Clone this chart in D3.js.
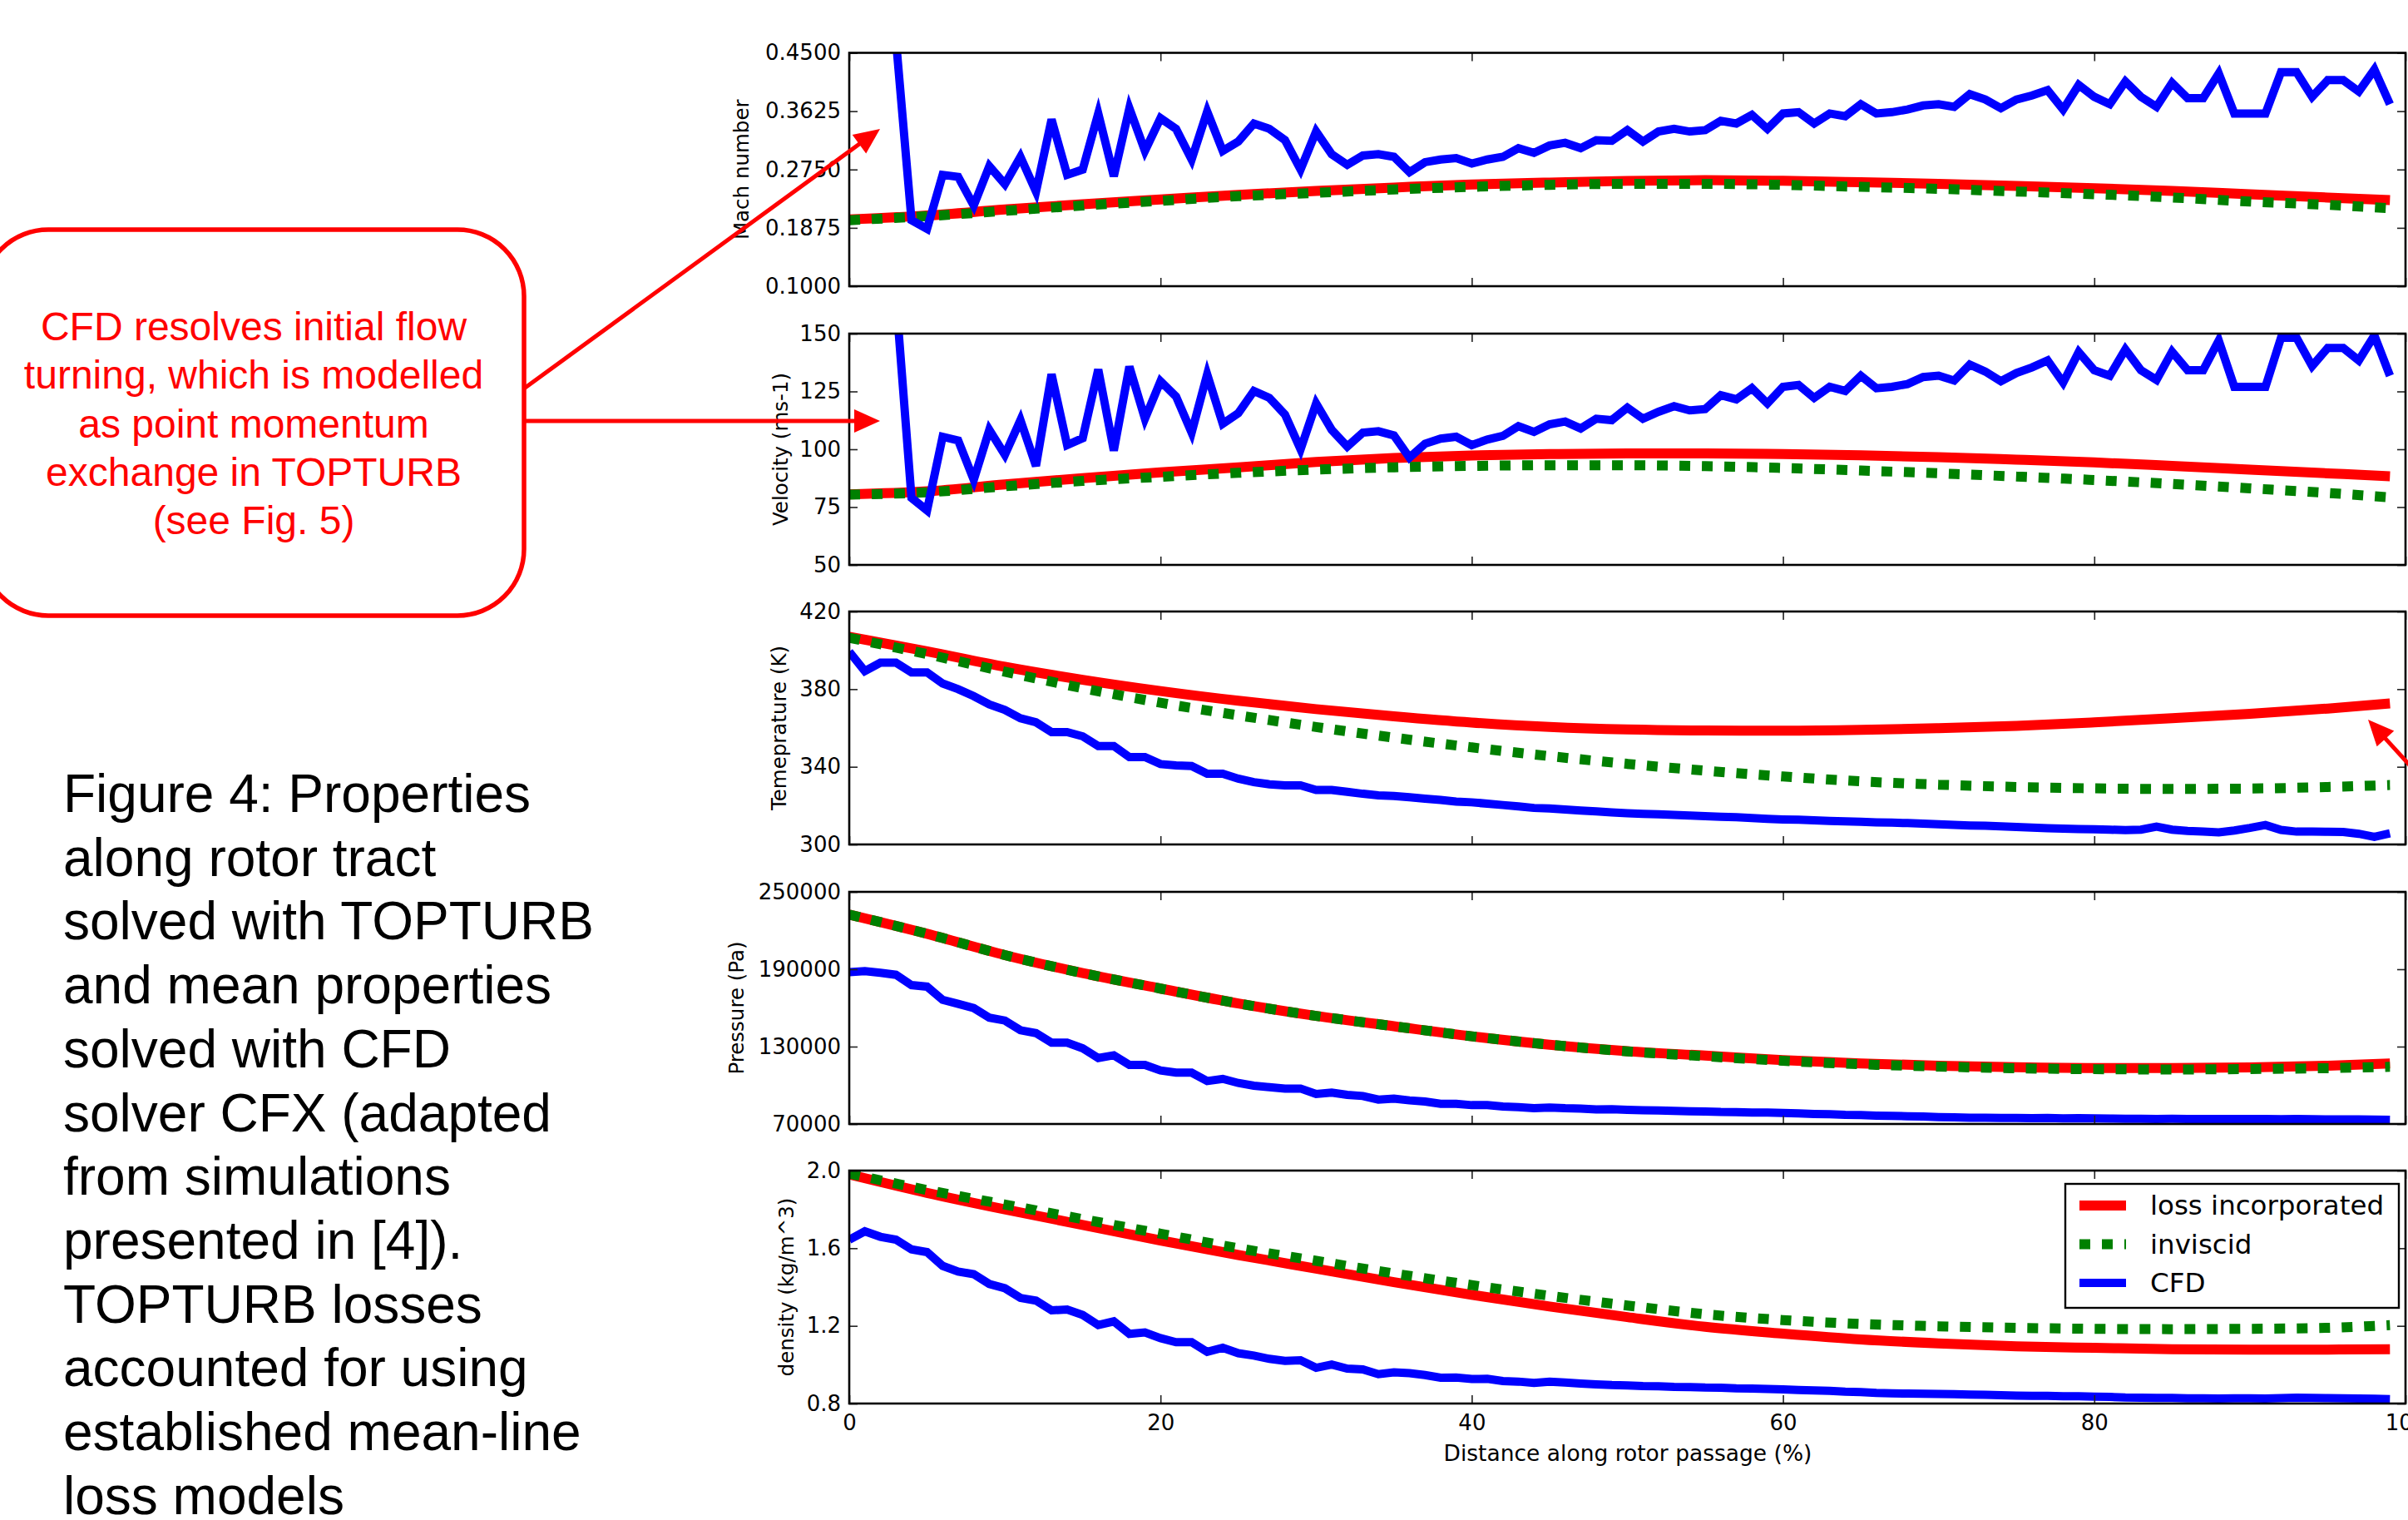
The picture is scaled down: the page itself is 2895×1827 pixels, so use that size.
<!DOCTYPE html>
<html><head><meta charset="utf-8">
<script src="https://cdn.jsdelivr.net/npm/d3@7"></script>
<style>html,body{margin:0;padding:0;background:#fff;} svg{display:block;}</style>
</head><body>
<svg id="chart" width="2895" height="1827"></svg>
<script>
// ---------------- DATA ----------------
const X_MODEL = [0,5,10,15,20,25,30,35,40,45,50,55,60,65,70,75,80,85,90,95,99];
const X_CFD = d3.range(0, 100);
const X_TICKS = [0,20,40,60,80,100];
const SERIES_NAMES = ["loss incorporated", "inviscid", "CFD"];

const machLoss = [0.200,0.206,0.215,0.223,0.230,0.237,0.243,0.248,0.2525,0.2555,0.258,0.259,0.258,0.256,0.2535,0.2505,0.247,0.243,0.238,0.233,0.229];
const machInviscid = [0.199,0.205,0.213,0.221,0.228,0.235,0.240,0.245,0.249,0.252,0.2535,0.2535,0.252,0.249,0.246,0.242,0.238,0.233,0.227,0.222,0.217];
const machCFD = [0.75,0.70,0.62,0.47,0.199,0.186,0.267,0.264,0.221,0.280,0.253,0.294,0.242,0.350,0.267,0.275,0.359,0.265,0.367,0.303,
  0.352,0.336,0.290,0.362,0.303,0.317,0.344,0.336,0.319,0.275,0.332,0.298,0.282,0.296,0.298,0.294,0.271,0.286,0.290,0.292,
  0.284,0.290,0.294,0.307,0.300,0.311,0.315,0.307,0.319,0.318,0.334,0.317,0.332,0.336,0.332,0.334,0.348,0.344,0.357,0.336,
  0.359,0.361,0.344,0.359,0.355,0.373,0.359,0.361,0.365,0.371,0.373,0.369,0.388,0.380,0.367,0.380,0.386,0.394,0.365,0.402,
  0.384,0.373,0.407,0.384,0.369,0.405,0.382,0.382,0.419,0.359,0.359,0.359,0.421,0.421,0.384,0.409,0.409,0.392,0.425,0.373];
const machTicks = [0.1,0.1875,0.275,0.3625,0.45];

const velLoss = [80.5,81.8,84.8,87.5,90.0,92.2,94.5,96.2,97.3,97.9,98.2,98.2,97.9,97.4,96.6,95.5,94.3,92.8,91.2,89.6,88.3];
const velInviscid = [80.4,81.4,84.0,86.3,88.1,89.8,91.2,92.2,92.8,93.1,93.1,92.7,91.9,90.8,89.6,88.2,86.7,85.0,83.1,81.1,79.2];
const velCFD = [260,240,210,166,79.0,73.6,105.4,103.8,86.8,108.4,97.6,112.6,92.8,132.4,101.8,104.8,134.5,99.4,135.7,113.2,
  129.4,122.8,107.2,132.4,111,115.6,125.2,122.2,115,100,119.8,108.4,101.2,107.2,107.8,106,96.4,102.4,104.6,105.4,
  101.8,104.2,105.8,110,107.5,110.8,112,109,113.2,112.6,118,113.2,116.2,118.6,116.8,117.4,123.4,121.6,126.4,119.8,
  127,127.8,122.2,127,125.2,131.8,126.4,127,128.2,131.2,131.8,129.7,136.6,133.6,129.4,133,135.4,138.4,128.8,142,
  134.2,131.8,143.2,134.2,130,142.2,134.2,134.2,147,127,127,127,148.2,148.2,136,143.8,143.8,138.4,149.2,131.8];
const velTicks = [50,75,100,125,150];

const tempLoss = [407,399.5,391.5,384.8,379,374,369.7,366,362.8,360.5,359.2,358.7,358.6,359.0,359.9,361.1,362.9,365.0,367.3,370.0,372.6];
const tempInviscid = [406.5,398,389,380.5,373,366.5,360.5,355,350,345.5,341.5,338,335,332.5,330.8,329.6,328.9,328.6,328.8,329.6,330.6];
const tempCFD = [399.3,389.3,393.6,393.6,388.6,388.6,382.9,380,376.4,372.1,369.3,365,362.9,357.9,357.9,355.7,350.7,350.7,345,345,
  341.4,340.7,340.4,336.4,336.4,333.9,332.1,331,330.4,330.4,328.1,328.1,327.1,326.1,325.3,325,324.3,323.6,322.9,322.1,
  321.7,321,320.3,319.6,318.8,318.5,318,317.5,317,316.5,316.1,315.8,315.5,315.2,314.9,314.6,314.3,314,313.6,313.2,
  312.9,312.7,312.4,312.1,311.9,311.7,311.4,311.2,311,310.7,310.4,310.1,309.8,309.6,309.3,309,308.7,308.4,308.1,307.9,
  307.8,307.6,307.4,307.6,309.2,307.6,307,306.6,306.2,307.2,308.5,310,307.5,306.6,306.6,306.5,306.4,305.5,303.9,305.7];
const tempTicks = [300,340,380,420];

const presLoss = [232400,217500,201000,187000,175000,163500,153800,145800,138000,131500,126500,123000,119500,117000,115200,114000,113400,113400,113900,115200,117000];
const presInviscid = [232400,217500,201000,187000,175000,163500,153800,145800,138000,131500,126300,122500,119000,116300,114500,113200,112500,112300,112600,113300,114300];
const presCFD = [187800,188500,187200,185700,177700,176500,166300,163100,159900,152400,150200,142700,140500,133000,133000,128700,121200,123300,115800,115800,
  111500,109800,109800,103300,105000,101800,99700,98600,97500,97500,93200,94300,92600,91700,88900,89600,88300,87400,85700,85700,
  84600,84600,83500,83100,82300,82800,82200,81900,81300,81400,80900,80600,80500,80100,79900,79700,79300,79200,78800,78800,
  78500,78200,77800,77600,77100,76900,76500,76300,76000,75800,75400,75200,74900,74900,74700,74600,74500,74600,74400,74500,
  74300,74200,74000,74000,73900,74000,73900,73800,73900,73800,73900,73800,73700,73800,73700,73600,73600,73500,73400,73200];
const presTicks = [70000,130000,190000,250000];

const densLoss = [1.98,1.885,1.80,1.72,1.64,1.565,1.495,1.425,1.36,1.30,1.245,1.195,1.16,1.13,1.11,1.095,1.087,1.08,1.078,1.078,1.08];
const densInviscid = [1.985,1.90,1.825,1.75,1.675,1.60,1.535,1.47,1.41,1.355,1.305,1.26,1.23,1.21,1.198,1.19,1.185,1.183,1.185,1.19,1.204];
const densCFD = [1.644,1.687,1.659,1.644,1.594,1.58,1.509,1.48,1.466,1.416,1.394,1.344,1.33,1.28,1.284,1.256,1.204,1.223,1.159,1.166,
  1.137,1.116,1.116,1.066,1.087,1.059,1.047,1.03,1.02,1.023,0.984,1.001,0.98,0.976,0.951,0.961,0.956,0.947,0.933,0.934,
  0.926,0.927,0.916,0.913,0.906,0.912,0.908,0.903,0.899,0.895,0.893,0.89,0.889,0.886,0.885,0.882,0.881,0.878,0.877,0.875,
  0.873,0.87,0.867,0.865,0.861,0.859,0.855,0.853,0.851,0.85,0.849,0.848,0.846,0.845,0.843,0.841,0.84,0.84,0.838,0.837,
  0.835,0.834,0.831,0.83,0.829,0.829,0.827,0.827,0.826,0.827,0.827,0.826,0.828,0.83,0.829,0.828,0.827,0.826,0.825,0.823];
const densTicks = [0.8,1.2,1.6,2.0];

const calloutLines = ["CFD resolves initial flow","turning, which is modelled","as point momentum","exchange in TOPTURB","(see Fig. 5)"];
const captionLines = ["Figure 4: Properties","along rotor tract","solved with TOPTURB","and mean properties","solved with CFD","solver CFX (adapted","from simulations","presented in [4]).","TOPTURB losses","accounted for using","established mean-line","loss models"];

// ---------------- LAYOUT ----------------
const svg = d3.select("#chart");
svg.append("rect").attr("width",2895).attr("height",1827).attr("fill","#fff");
const COL = {loss:"#ff0000", inv:"#008000", cfd:"#0000ff"};
const FONT = "DejaVu Sans, sans-serif";
const x = d3.scaleLinear().domain([0,100]).range([1021,2892]);

const panels = [
  {label:"Mach number", domain:[0.1,0.45], ticks:machTicks, fmt:d3.format(".4f"), loss:machLoss, inv:machInviscid, cfd:machCFD, top:63.5, bottom:344, lx:891},
  {label:"Velocity (ms-1)", domain:[50,150], ticks:velTicks, fmt:d3.format("d"), loss:velLoss, inv:velInviscid, cfd:velCFD, top:401, bottom:679, lx:938},
  {label:"Temeprature (K)", domain:[300,420], ticks:tempTicks, fmt:d3.format("d"), loss:tempLoss, inv:tempInviscid, cfd:tempCFD, top:735, bottom:1015, lx:936},
  {label:"Pressure (Pa)", domain:[70000,250000], ticks:presTicks, fmt:d3.format("d"), loss:presLoss, inv:presInviscid, cfd:presCFD, top:1072, bottom:1351, lx:885},
  {label:"density (kg/m^3)", domain:[0.8,2.0], ticks:densTicks, fmt:d3.format(".1f"), loss:densLoss, inv:densInviscid, cfd:densCFD, top:1407, bottom:1687, lx:945}
];

panels.forEach((p, i) => {
  const y = d3.scaleLinear().domain(p.domain).range([p.bottom, p.top]);
  const g = svg.append("g");
  const cid = "clip" + i;
  svg.append("clipPath").attr("id", cid).append("rect")
    .attr("x", x(0)).attr("y", p.top).attr("width", x(100)-x(0)).attr("height", p.bottom-p.top);
  const lines = g.append("g").attr("clip-path", `url(#${cid})`);
  const lineM = d3.line().x((d,k)=>x(X_MODEL[k])).y(d=>y(d)).curve(d3.curveMonotoneX);
  const lineC = d3.line().x((d,k)=>x(X_CFD[k])).y(d=>y(d));
  lines.append("path").attr("d", lineM(p.loss)).attr("fill","none").attr("stroke",COL.loss).attr("stroke-width",12);
  lines.append("path").attr("d", lineM(p.inv)).attr("fill","none").attr("stroke",COL.inv).attr("stroke-width",12).attr("stroke-dasharray","13,14");
  lines.append("path").attr("d", lineC(p.cfd)).attr("fill","none").attr("stroke",COL.cfd).attr("stroke-width",10).attr("stroke-linejoin","miter");

  // axes (inward ticks on all four sides)
  const axL = g.append("g").attr("transform",`translate(${x(0)},0)`)
    .call(d3.axisLeft(y).tickValues(p.ticks).tickFormat(p.fmt).tickSizeInner(-10).tickSizeOuter(0).tickPadding(10));
  const axR = g.append("g").attr("transform",`translate(${x(100)},0)`)
    .call(d3.axisRight(y).tickValues(p.ticks).tickFormat("").tickSizeInner(-10).tickSizeOuter(0));
  const axT = g.append("g").attr("transform",`translate(0,${p.top})`)
    .call(d3.axisTop(x).tickValues(X_TICKS).tickFormat("").tickSizeInner(-10).tickSizeOuter(0));
  const axB = g.append("g").attr("transform",`translate(0,${p.bottom})`)
    .call(d3.axisBottom(x).tickValues(X_TICKS).tickFormat(i===4 ? d3.format("d") : "").tickSizeInner(-10).tickSizeOuter(0).tickPadding(14));
  [axL,axR,axT,axB].forEach(a => {
    a.select(".domain").remove();
    a.selectAll(".tick line").attr("stroke","#222").attr("stroke-width",1.6);
    a.selectAll("text").attr("font-family",FONT).attr("font-size",26).attr("fill","#000");
  });
  // frame
  g.append("rect").attr("x",x(0)).attr("y",p.top).attr("width",x(100)-x(0)).attr("height",p.bottom-p.top)
    .attr("fill","none").attr("stroke","#000").attr("stroke-width",2.6);
  // y label
  g.append("text").attr("transform",`translate(${p.lx},${(p.top+p.bottom)/2}) rotate(-90)`)
    .attr("text-anchor","middle").attr("dominant-baseline","central")
    .attr("font-family",FONT).attr("font-size",24.5).attr("fill","#000").text(p.label);

  if (i === 4) {
    svg.append("text").attr("x",1957).attr("y",1756).attr("text-anchor","middle")
      .attr("font-family",FONT).attr("font-size",26.5).attr("fill","#000").text("Distance along rotor passage (%)");
    // legend
    const lg = svg.append("g");
    lg.append("rect").attr("x",2483).attr("y",1423).attr("width",401).attr("height",149)
      .attr("fill","#fff").attr("stroke","#000").attr("stroke-width",2.4);
    const styles = [
      {c:COL.loss, w:12, dash:null},
      {c:COL.inv, w:12, dash:"13,14"},
      {c:COL.cfd, w:10, dash:null}
    ];
    SERIES_NAMES.forEach((name, k) => {
      const yy = 1449 + k*46.5;
      lg.append("line").attr("x1",2500).attr("x2",2556).attr("y1",yy).attr("y2",yy)
        .attr("stroke",styles[k].c).attr("stroke-width",styles[k].w).attr("stroke-dasharray",styles[k].dash);
      lg.append("text").attr("x",2585).attr("y",yy).attr("dominant-baseline","central")
        .attr("font-family",FONT).attr("font-size",32.5).attr("fill","#000").text(name);
    });
  }
});

// ---------------- ANNOTATIONS ----------------
const RED = "#ff0000";
svg.append("rect").attr("x",-22).attr("y",276).attr("width",652).attr("height",464).attr("rx",80).attr("ry",80)
  .attr("fill","#fff").attr("stroke",RED).attr("stroke-width",5.5);
calloutLines.forEach((t,k) => {
  svg.append("text").attr("x",305).attr("y",409 + k*58.3).attr("text-anchor","middle")
    .attr("font-family","Liberation Sans, Arial, sans-serif").attr("font-size",48).attr("fill",RED).text(t);
});
function arrow(x1,y1,x2,y2){
  const ang = Math.atan2(y2-y1, x2-x1), L = 31, W = 14;
  const bx = x2 - L*Math.cos(ang), by = y2 - L*Math.sin(ang);
  svg.append("line").attr("x1",x1).attr("y1",y1).attr("x2",bx+2*Math.cos(ang)).attr("y2",by+2*Math.sin(ang))
    .attr("stroke",RED).attr("stroke-width",5);
  const px = -Math.sin(ang)*W, py = Math.cos(ang)*W;
  svg.append("path").attr("d",`M${x2},${y2}L${bx+px},${by+py}L${bx-px},${by-py}Z`).attr("fill",RED);
}
arrow(630,467,1058,155);
arrow(630,506,1058,506);
arrow(2912,936,2847,865);

captionLines.forEach((t,k) => {
  svg.append("text").attr("x",76).attr("y",976 + k*76.7)
    .attr("font-family","Liberation Sans, Arial, sans-serif").attr("font-size",64).attr("fill","#000").text(t);
});
</script>
</body></html>
